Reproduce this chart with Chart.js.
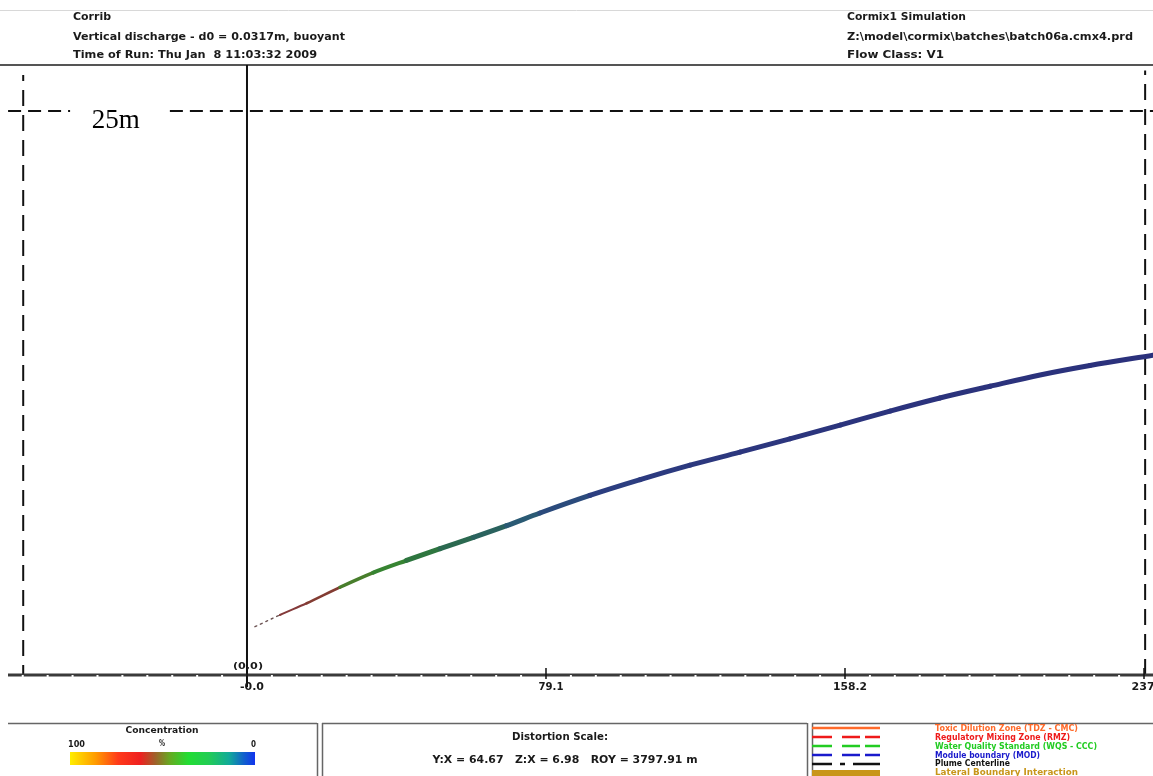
<!DOCTYPE html>
<html>
<head>
<meta charset="utf-8">
<script src="https://cdn.jsdelivr.net/npm/chart.js@4.4.1/dist/chart.umd.min.js"></script>
<style>
  html, body { margin: 0; padding: 0; background: #fff; overflow: hidden; }
  canvas { display: block; }
</style>
</head>
<body>
<canvas id="chartPlume" width="1153" height="776"></canvas>
<script>
// plume centerline, downstream distance x (m) vs height above bed z (m)
const plumeX = [2.1, 8.7, 15.8, 24.6, 33.4, 42.2, 51.1, 59.9, 68.7, 77.5, 90.7, 104.0, 117.2, 130.4, 143.6, 156.9, 170.1, 183.3, 196.6, 209.8, 223.0, 239.7];
const plumeZ = [2.14, 2.66, 3.18, 3.89, 4.54, 5.08, 5.60, 6.10, 6.62, 7.18, 7.96, 8.66, 9.30, 9.88, 10.47, 11.08, 11.70, 12.28, 12.80, 13.30, 13.72, 14.18];
// concentration (%) along the centerline
const plumeConc = [64, 60, 57, 44, 38, 30, 24, 20, 15, 11, 8, 6, 5, 4, 3.5, 3, 2.6, 2.3, 2, 1.8, 1.6, 1.4];

const xTickValues = [0, 79.1, 158.2, 237.3];
const xTickLabels = ["-0.0", "79.1", "158.2", "237.3"];
const minorPerMajor = 12;

const boundaryLeftX = -59.2;
const boundaryRightX = 237.6;
const zoneDepth = 25;
const zoneLabel = "25m";

const headerLeft = ["Corrib", "Vertical discharge - d0 = 0.0317m, buoyant", "Time of Run: Thu Jan  8 11:03:32 2009"];
const headerRight = ["Cormix1 Simulation", "Z:\\model\\cormix\\batches\\batch06a.cmx4.prd", "Flow Class: V1"];

const distortionTitle = "Distortion Scale:";
const distortionText = "Y:X = 64.67   Z:X = 6.98   ROY = 3797.91 m";

const legendLabels = ["Toxic Dilution Zone (TDZ - CMC)", "Regulatory Mixing Zone (RMZ)", "Water Quality Standard (WQS - CCC)", "Module boundary (MOD)", "Plume Centerline", "Lateral Boundary Interaction"];

const COLORS = {
  ink: "#1a1a1a",
  axis: "#3a3a3a",
  rule: "#555555",
  legend: ["#ff6a2a", "#ee1a1a", "#22cc22", "#1a1acc", "#111111", "#c8961a"],
};

// colour bar stops (concentration %, colour)
const barStops = [[100, "#ffee00"], [86, "#ff9a00"], [74, "#ff3a1a"], [62, "#ee2020"], [54, "#a0602a"], [46, "#66aa22"], [36, "#22dd33"], [25, "#22cc55"], [14, "#11aa99"], [6, "#1160cc"], [0, "#1133ee"]];
// darker shades used on the plume itself
const plumeStops = [[66, "#606060"], [59, "#8a3434"], [50, "#6a5a2a"], [42, "#3d8a2c"], [32, "#2f7a3a"], [22, "#2a6555"], [14, "#2a5878"], [8, "#2c3e80"], [0, "#2b2e7b"]];

function hexToRgb(h) {
  return [parseInt(h.slice(1, 3), 16), parseInt(h.slice(3, 5), 16), parseInt(h.slice(5, 7), 16)];
}

function colorAt(stops, c) {
  for (let i = 0; i < stops.length - 1; i++) {
    const [c0, h0] = stops[i];
    const [c1, h1] = stops[i + 1];
    if (c <= c0 && c >= c1) {
      const t = (c0 - c) / (c0 - c1);
      const a = hexToRgb(h0), b = hexToRgb(h1);
      return `rgb(${a.map((v, k) => Math.round(v + (b[k] - v) * t)).join(",")})`;
    }
  }
  return c > stops[0][0] ? stops[0][1] : stops[stops.length - 1][1];
}

function fitText(ctx, text, x, y, width, align) {
  const w = ctx.measureText(text).width;
  ctx.save();
  ctx.translate(x, y);
  ctx.scale(width / w, 1);
  ctx.textAlign = "left";
  ctx.fillText(text, align === "center" ? -w / 2 : 0, 0);
  ctx.restore();
}

const framePlugin = {
  id: "cormixFrame",
  beforeDraw(chart) {
    const ctx = chart.ctx;
    ctx.save();
    ctx.fillStyle = "#fff";
    ctx.fillRect(0, 0, chart.width, chart.height);

    // header
    ctx.strokeStyle = "#d8d8d8";
    ctx.lineWidth = 1;
    ctx.beginPath(); ctx.moveTo(0, 10.5); ctx.lineTo(chart.width, 10.5); ctx.stroke();

    ctx.fillStyle = COLORS.ink;
    ctx.font = "bold 11px 'DejaVu Sans'";
    ctx.textBaseline = "middle";
    const leftW = [38, 272, 244];
    const rightW = [119, 286, 97];
    const rowY = [17, 37, 55];
    headerLeft.forEach((t, i) => fitText(ctx, t, 73, rowY[i], leftW[i]));
    headerRight.forEach((t, i) => fitText(ctx, t, 847, rowY[i], rightW[i]));

    ctx.strokeStyle = COLORS.rule;
    ctx.lineWidth = 2;
    ctx.beginPath(); ctx.moveTo(0, chart.chartArea.top); ctx.lineTo(chart.width, chart.chartArea.top); ctx.stroke();

    // bottom panels
    ctx.strokeStyle = "#666";
    ctx.lineWidth = 1.5;
    ctx.beginPath();
    ctx.moveTo(8, 723.5); ctx.lineTo(317, 723.5);
    ctx.moveTo(322, 723.5); ctx.lineTo(807, 723.5);
    ctx.moveTo(812, 723.5); ctx.lineTo(chart.width, 723.5);
    [317, 322, 807, 812].forEach(x => { ctx.moveTo(x + 0.5, 723); ctx.lineTo(x + 0.5, 776); });
    ctx.stroke();

    // concentration bar
    ctx.fillStyle = COLORS.ink;
    ctx.font = "bold 9px 'DejaVu Sans'";
    fitText(ctx, "Concentration", 162, 731, 73, "center");
    fitText(ctx, "%", 162, 744, 6, "center");
    fitText(ctx, "100", 68, 745, 17);
    fitText(ctx, "0", 251, 745, 5);
    const bx0 = 70, bx1 = 255;
    const grad = ctx.createLinearGradient(bx0, 0, bx1, 0);
    barStops.forEach(([c, h]) => grad.addColorStop(1 - c / 100, h));
    ctx.fillStyle = grad;
    ctx.fillRect(bx0, 752, bx1 - bx0, 13);

    // distortion scale
    ctx.fillStyle = COLORS.ink;
    ctx.font = "bold 11px 'DejaVu Sans'";
    fitText(ctx, distortionTitle, 560, 737, 96, "center");
    fitText(ctx, distortionText, 565, 760, 265, "center");

    // legend swatches
    const rows = [728, 737, 746, 755, 764];
    ctx.lineWidth = 2.5;
    ctx.lineCap = "butt";
    ctx.strokeStyle = COLORS.legend[0];
    ctx.beginPath(); ctx.moveTo(812, rows[0]); ctx.lineTo(880, rows[0]); ctx.stroke();
    [1, 2, 3].forEach(i => {
      ctx.strokeStyle = COLORS.legend[i];
      ctx.beginPath();
      [[812, 832], [842, 860], [865, 880]].forEach(([a, b]) => { ctx.moveTo(a, rows[i]); ctx.lineTo(b, rows[i]); });
      ctx.stroke();
    });
    ctx.strokeStyle = COLORS.legend[4];
    ctx.beginPath();
    [[812, 832], [840, 845], [853, 880]].forEach(([a, b]) => { ctx.moveTo(a, rows[4]); ctx.lineTo(b, rows[4]); });
    ctx.stroke();
    ctx.fillStyle = COLORS.legend[5];
    ctx.fillRect(812, 770, 68, 6);

    ctx.font = "bold 9px 'DejaVu Sans'";
    const labelY = [729, 738, 747, 756, 764, 773];
    const labelW = [143, 135, 162, 105, 75, 143];
    legendLabels.forEach((t, i) => {
      ctx.fillStyle = COLORS.legend[i];
      fitText(ctx, t, 935, labelY[i], labelW[i]);
    });
    ctx.restore();
  },
  afterDatasetsDraw(chart) {
    const ctx = chart.ctx;
    const xs = chart.scales.x, ys = chart.scales.y;
    const y0 = Math.round(ys.getPixelForValue(0));
    const x0 = xs.getPixelForValue(0);
    ctx.save();

    // vertical line through the source
    ctx.strokeStyle = "#111";
    ctx.lineWidth = 2;
    ctx.beginPath(); ctx.moveTo(x0, chart.chartArea.top); ctx.lineTo(x0, y0 + 12); ctx.stroke();

    // x axis
    ctx.strokeStyle = COLORS.axis;
    ctx.lineWidth = 3;
    ctx.beginPath(); ctx.moveTo(8, y0); ctx.lineTo(chart.width, y0); ctx.stroke();
    const step = xTickValues[1] / minorPerMajor;
    ctx.fillStyle = "#fff";
    for (let k = -10; k <= 40; k++) {
      const px = xs.getPixelForValue(k * step);
      if (k % minorPerMajor === 0 || px < 10) continue;
      ctx.fillRect(px - 1, y0, 2, 2);
    }
    ctx.strokeStyle = "#111";
    ctx.lineWidth = 1.5;
    xTickValues.forEach(v => {
      const px = xs.getPixelForValue(v);
      ctx.beginPath(); ctx.moveTo(px, y0 - 7); ctx.lineTo(px, y0 + 4); ctx.stroke();
    });
    ctx.fillStyle = COLORS.ink;
    ctx.font = "bold 11px 'DejaVu Sans'";
    ctx.textBaseline = "middle";
    const tickW = [24, 25, 34, 35];
    xTickValues.forEach((v, i) => {
      const px = xs.getPixelForValue(v);
      fitText(ctx, xTickLabels[i], px + 5, y0 + 12, tickW[i], "center");
    });
    ctx.font = "bold 9px 'DejaVu Sans'";
    fitText(ctx, "(0,0)", x0 + 1, y0 - 8, 30, "center");

    // zone label
    ctx.font = "27px 'Liberation Serif'";
    ctx.textAlign = "center";
    ctx.textBaseline = "alphabetic";
    ctx.fillStyle = "#000";
    ctx.fillText(zoneLabel, xs.getPixelForValue(-34.7), ys.getPixelForValue(zoneDepth) + 17);
    ctx.restore();
  }
};

const ctx = document.getElementById("chartPlume").getContext("2d");
const config = {
  type: "line",
  data: {
    datasets: [
      {
        label: "Plume Centerline",
        data: plumeX.map((x, i) => ({ x, y: plumeZ[i] })),
        cubicInterpolationMode: "monotone",
        pointRadius: 0,
        borderCapStyle: "round",
        segment: {
          borderColor: c => colorAt(plumeStops, plumeConc[c.p0DataIndex]),
          borderWidth: c => Math.min(5, 1.2 + plumeX[c.p0DataIndex] * 0.09),
          borderDash: c => (plumeX[c.p0DataIndex] < 8 ? [2, 4] : undefined),
        },
        order: 0,
      },
      {
        label: "Left boundary",
        data: [{ x: boundaryLeftX, y: 0 }, { x: boundaryLeftX, y: 26.6 }],
        borderColor: "#111",
        borderWidth: 2,
        borderDash: [16, 9],
        borderDashOffset: 6,
        pointRadius: 0,
        order: 1,
      },
      {
        label: "Right boundary",
        data: [{ x: boundaryRightX, y: 0 }, { x: boundaryRightX, y: 26.8 }],
        borderColor: "#111",
        borderWidth: 2,
        borderDash: [16, 9],
        pointRadius: 0,
        order: 1,
      },
      {
        label: "Zone depth",
        data: [{ x: -63.2, y: zoneDepth }, { x: -46.8, y: zoneDepth }, { x: -30, y: null }, { x: -20.4, y: zoneDepth }, { x: 239.7, y: zoneDepth }],
        borderColor: "#111",
        borderWidth: 2,
        borderDash: [13, 7],
        pointRadius: 0,
        spanGaps: false,
        order: 1,
      },
    ],
  },
  options: {
    responsive: false,
    animation: false,
    devicePixelRatio: 1,
    layout: { padding: { top: 65, bottom: 101, left: 0, right: 0 } },
    plugins: { legend: { display: false }, tooltip: { enabled: false } },
    scales: {
      x: { type: "linear", min: -65.34, max: 239.68, display: false },
      y: { type: "linear", min: 0, max: 27.04, display: false },
    },
  },
  plugins: [framePlugin],
};

new Chart(ctx, config);
</script>
</body>
</html>
